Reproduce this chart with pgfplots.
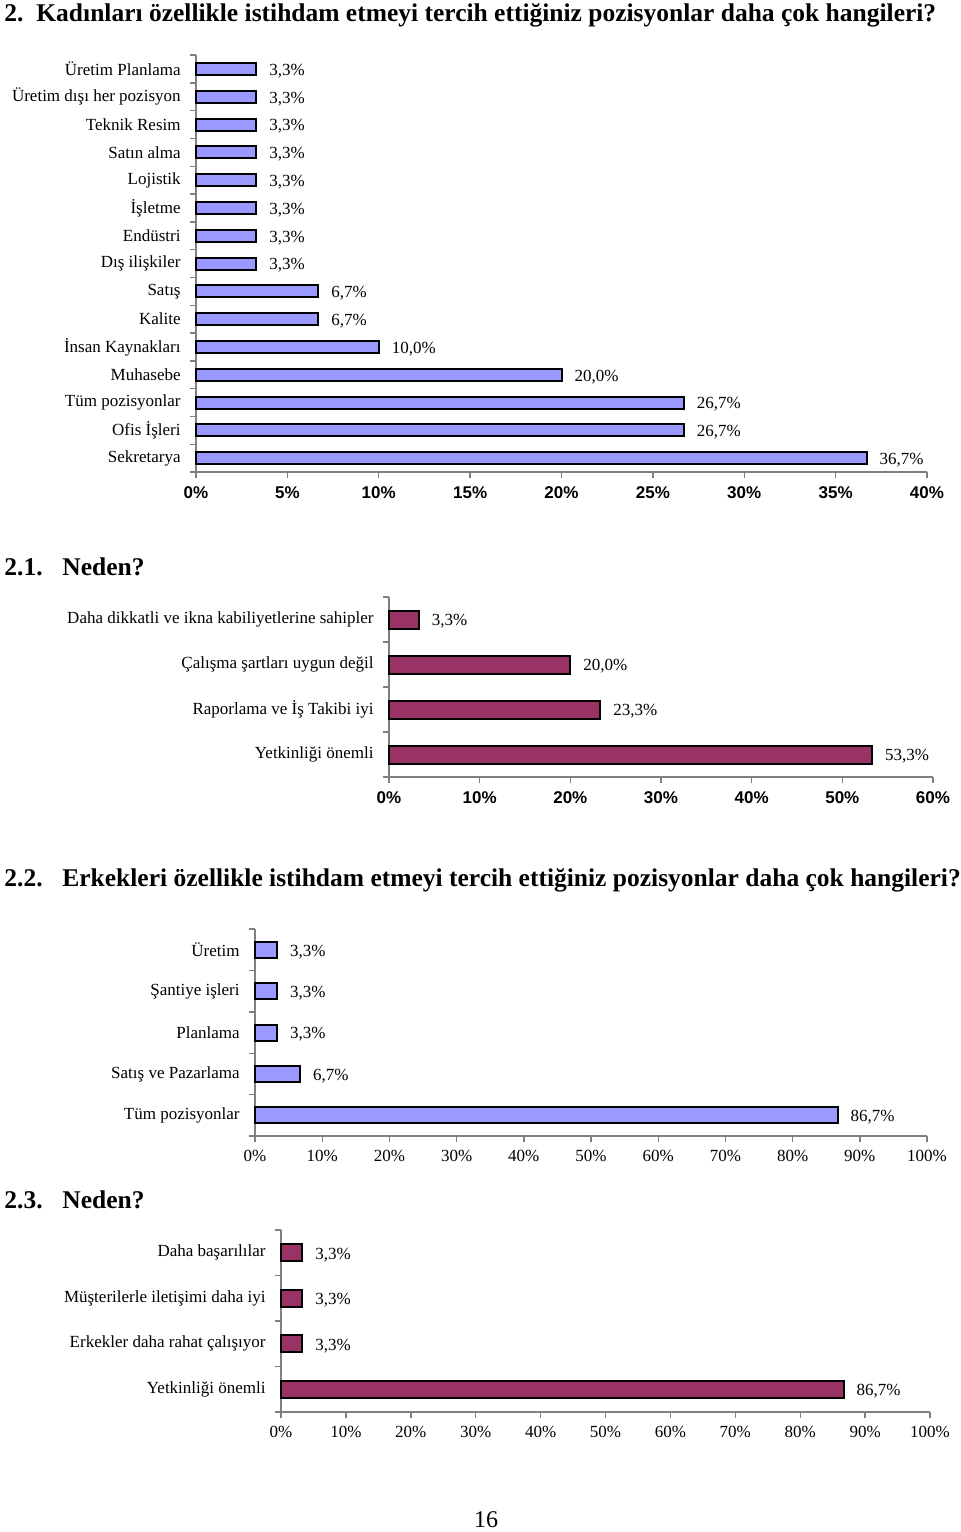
\documentclass[border=0pt]{standalone}
\usepackage{fontspec}
\setmainfont{Liberation Serif}
\setsansfont{Liberation Sans}
\usepackage{pgfplots}
\pgfplotsset{compat=1.18}
\definecolor{lblue}{HTML}{9999FF}
\definecolor{plum}{HTML}{993366}
\definecolor{axgray}{HTML}{808080}
\newcommand\lbl{\fontsize{8.5pt}{10pt}\selectfont}
\newcommand\ttl{\fontsize{12.75pt}{15pt}\selectfont\bfseries}
\pgfplotsset{
  hbar/.style={
    scale only axis, xbar, xmin=0, clip=false, enlargelimits=false,
    /pgf/number format/assume math mode=true,
    axis x line=bottom, axis y line=left,
    axis line style={-, axgray, line width=0.7pt},
    tick align=outside, major tick length=3pt, minor tick length=3pt,
    major y tick style={draw=none},
    minor y tick style={axgray, line width=0.7pt},
    major x tick style={axgray, line width=0.7pt},
    scaled x ticks=false,
    xticklabel={\pgfmathprintnumber{\tick}\%},
    yticklabel style={font=\lbl, inner sep=0pt, anchor=east},
    yticklabel shift=4.5pt,
    xticklabel style={inner sep=0pt, anchor=north},
    xticklabel shift=4pt,
    point meta=x,
    nodes near coords={\pgfmathprintnumber[fixed,fixed zerofill,precision=1,use comma]{\pgfplotspointmeta}\%},
    every node near coord/.append style={font=\lbl, anchor=west, inner sep=0pt, xshift=6pt, yshift=-1pt, black},
  },
  bluebar/.style={fill=lblue, draw=black, line width=1pt},
  plumbar/.style={fill=plum, draw=black, line width=1pt},
}
\begin{document}
\begin{tikzpicture}[x=1pt,y=1pt]
% titles
\node[anchor=base west, inner sep=0pt] at (2pt,-10.5pt) {\ttl 2.};
\node[anchor=base west, inner sep=0pt] at (18pt,-10.5pt) {\ttl Kadınları özellikle istihdam etmeyi tercih ettiğiniz pozisyonlar daha çok hangileri?};

% chart 1
\begin{axis}[hbar, at={(98pt,-236pt)}, anchor=south west,
  width=365.5pt, height=208.5pt,
  xmax=40, xtick={0,5,...,40},
  ymin=-0.5, ymax=14.5, ytick={0,...,14},
  minor ytick={-0.5,0.5,...,14.5},
  xticklabel style={font=\sffamily\bfseries\lbl},
  yticklabels={Sekretarya,Ofis İşleri,Tüm pozisyonlar,Muhasebe,İnsan Kaynakları,Kalite,Satış,Dış ilişkiler,Endüstri,İşletme,Lojistik,Satın alma,Teknik Resim,Üretim dışı her pozisyon,Üretim Planlama},
  bar width=6pt]
\addplot[bluebar] coordinates {(36.7,0) (26.7,1) (26.7,2) (20.0,3) (10.0,4) (6.7,5) (6.7,6) (3.3,7) (3.3,8) (3.3,9) (3.3,10) (3.3,11) (3.3,12) (3.3,13) (3.3,14)};
\end{axis}

\node[anchor=base west, inner sep=0pt] at (2pt,-287.5pt) {\ttl 2.1.};
\node[anchor=base west, inner sep=0pt] at (31pt,-287.5pt) {\ttl Neden?};

% chart 2
\begin{axis}[hbar, at={(194.5pt,-388.5pt)}, anchor=south west,
  width=272pt, height=90pt,
  xmax=60, xtick={0,10,...,60},
  ymin=-0.5, ymax=3.5, ytick={0,...,3},
  minor ytick={-0.5,0.5,...,3.5},
  xticklabel style={font=\sffamily\bfseries\lbl},
  yticklabels={Yetkinliği önemli,Raporlama ve İş Takibi iyi,Çalışma şartları uygun değil,Daha dikkatli ve ikna kabiliyetlerine sahipler},
  bar width=9pt]
\addplot[plumbar] coordinates {(53.3,0) (23.3,1) (20.0,2) (3.3,3)};
\end{axis}

\node[anchor=base west, inner sep=0pt] at (2pt,-443pt) {\ttl 2.2.};
\node[anchor=base west, inner sep=0pt] at (31pt,-443pt) {\ttl Erkekleri özellikle istihdam etmeyi tercih ettiğiniz pozisyonlar daha çok hangileri?};

% chart 3
\begin{axis}[hbar, at={(127.5pt,-568pt)}, anchor=south west,
  width=336pt, height=103.5pt,
  xmax=100, xtick={0,10,...,100},
  ymin=-0.5, ymax=4.5, ytick={0,...,4},
  minor ytick={-0.5,0.5,...,4.5},
  xticklabel style={font=\lbl},
  yticklabels={Tüm pozisyonlar,Satış ve Pazarlama,Planlama,Şantiye işleri,Üretim},
  bar width=8pt]
\addplot[bluebar] coordinates {(86.7,0) (6.7,1) (3.3,2) (3.3,3) (3.3,4)};
\end{axis}

\node[anchor=base west, inner sep=0pt] at (2pt,-604pt) {\ttl 2.3.};
\node[anchor=base west, inner sep=0pt] at (31pt,-604pt) {\ttl Neden?};

% chart 4
\begin{axis}[hbar, at={(140.5pt,-706pt)}, anchor=south west,
  width=324.5pt, height=91pt,
  xmax=100, xtick={0,10,...,100},
  ymin=-0.5, ymax=3.5, ytick={0,...,3},
  minor ytick={-0.5,0.5,...,3.5},
  xticklabel style={font=\lbl},
  yticklabels={Yetkinliği önemli,Erkekler daha rahat çalışıyor,Müşterilerle iletişimi daha iyi,Daha başarılılar},
  bar width=8.5pt]
\addplot[plumbar] coordinates {(86.7,0) (3.3,1) (3.3,2) (3.3,3)};
\end{axis}

\node[anchor=base, inner sep=0pt] at (243pt,-763.5pt) {\fontsize{12pt}{14pt}\selectfont 16};

\pgfresetboundingbox
\path[use as bounding box] (0,0) rectangle (480pt,-766pt);
\end{tikzpicture}
\end{document}
